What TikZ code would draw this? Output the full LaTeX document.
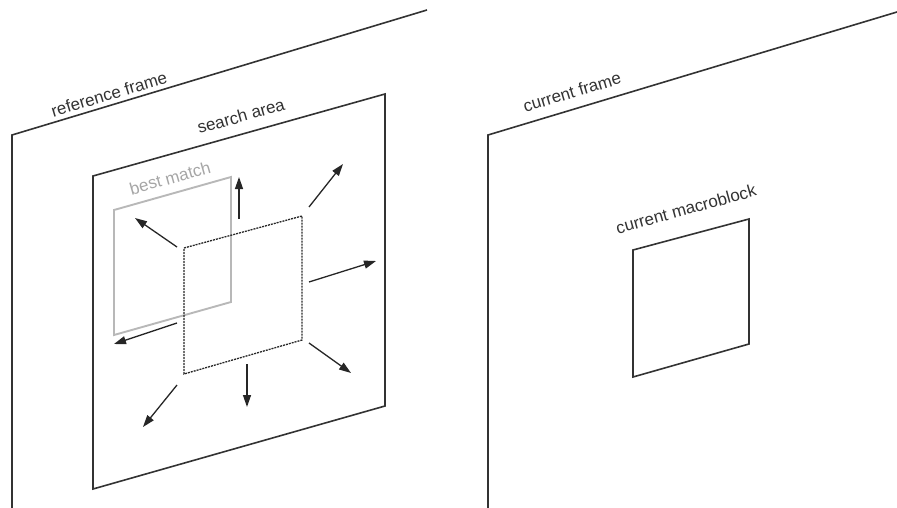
\documentclass[tikz,border=0pt]{standalone}
\usepackage{fontspec}
\setmainfont{Liberation Sans}
\usetikzlibrary{arrows.meta}
\begin{document}
\begin{tikzpicture}[x=1pt,y=-1pt,
  plane/.style={draw=black!80, line width=1.6pt, line join=miter},
  ghost/.style={draw=black!28, line width=1.9pt, line join=miter},
  block/.style={draw=black!85, line width=1.3pt, dash pattern=on 2pt off 1pt},
  mvarrow/.style={draw=black!85, line width=1.3pt, -{Triangle[length=12pt,width=8pt]}},
  lbl/.style={inner sep=0pt, text=black!80, font=\fontsize{17}{20}\selectfont},
  glbl/.style={lbl, text=black!35}]
\useasboundingbox (0,0) rectangle (897,508);

% reference frame (left plane)
\draw[plane] (12,508) -- (12,135) -- (427,10);
\node[lbl, rotate=16.75] (reflbl) at (109,94) {reference frame};

% search area inside the reference frame
\draw[plane] (93,176) -- (385,94) -- (385,406) -- (93,489) -- cycle;
\node[lbl, rotate=15.7] (searchlbl) at (241,116) {search area};

% best matching block
\draw[ghost] (114,210) -- (231,177) -- (231,302) -- (114,335) -- cycle;
\node[glbl, rotate=15.7] (bestlbl) at (170,178) {best match};

% co-located block position (dotted)
\draw[block] (184,248) -- (302,216) -- (302,340) -- (184,374) -- cycle;

% candidate motion directions
\coordinate (a1s) at (239,219); \coordinate (a1e) at (239,177);
\coordinate (a2s) at (309,207); \coordinate (a2e) at (343,164);
\coordinate (a3s) at (177,247); \coordinate (a3e) at (135,218);
\coordinate (a4s) at (309,282); \coordinate (a4e) at (376,261);
\coordinate (a5s) at (177,323); \coordinate (a5e) at (114,344);
\coordinate (a6s) at (309,343); \coordinate (a6e) at (351,373);
\coordinate (a7s) at (247,364); \coordinate (a7e) at (247,407);
\coordinate (a8s) at (177,385); \coordinate (a8e) at (143,427);
\foreach \i in {1,...,8} \draw[mvarrow] (a\i s) -- (a\i e);

% current frame (right plane)
\draw[plane] (488,508) -- (488,135) -- (897,12);
\node[lbl, rotate=16.75] (curlbl) at (572,92) {current frame};

% current macroblock
\draw[plane] (633,250) -- (749,219) -- (749,344) -- (633,377) -- cycle;
\node[lbl, rotate=15.5] (mblbl) at (686,209) {current macroblock};
\end{tikzpicture}
\end{document}
